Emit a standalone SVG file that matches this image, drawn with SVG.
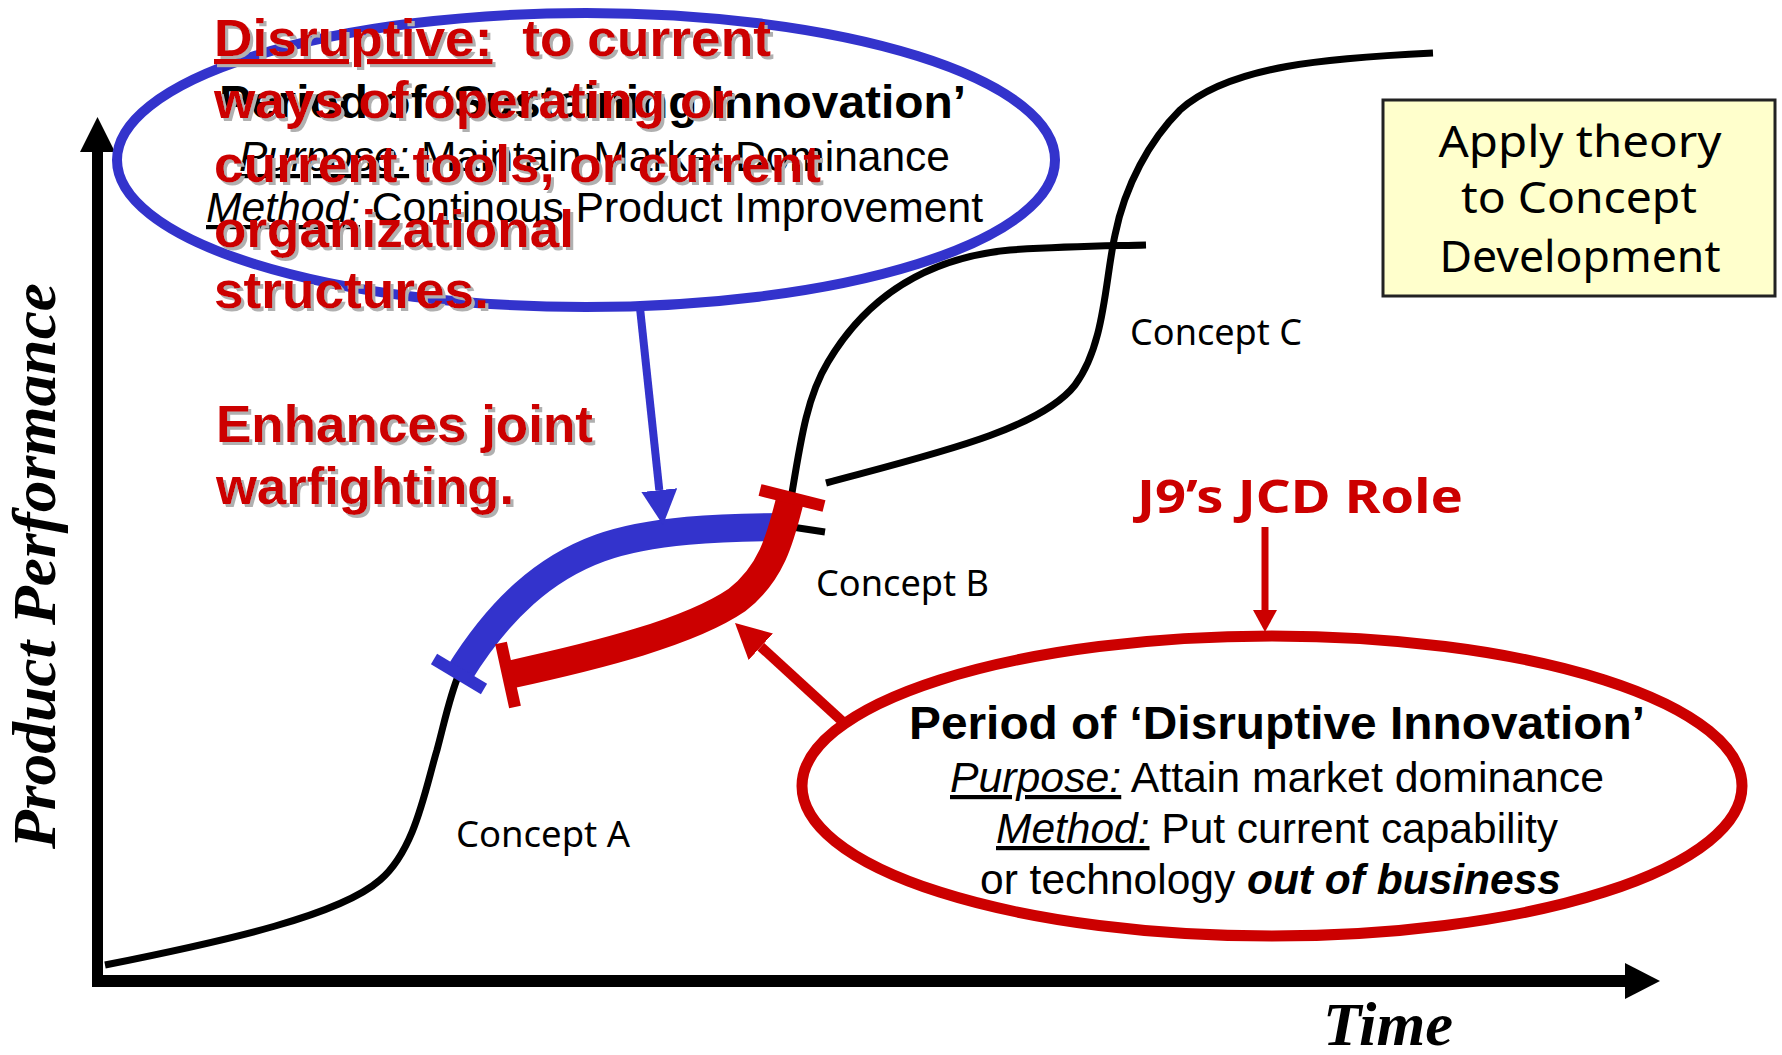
<svg xmlns="http://www.w3.org/2000/svg" width="1782" height="1055" viewBox="0 0 1782 1055">
  <defs>
    <style>
      .sans { font-family: "Liberation Sans", Arial, sans-serif; }
      .hand { font-family: "Noto Sans", "Liberation Sans", sans-serif; }
      .serif { font-family: "Liberation Serif", "Times New Roman", serif; font-weight: bold; font-style: italic; fill: #000; }
      .body { font-size: 42px; fill: #000; }
      .head { font-size: 47px; font-weight: bold; fill: #000; }
      .label { font-size: 52px; font-weight: bold; fill: #CC0000; }
      .ul { font-style: italic; text-decoration: underline; }
      .curve { fill: none; stroke: #000; stroke-width: 7; }
      .axis { fill: #000; }
      .band { fill: none; stroke-width: 28; stroke-linecap: butt; }
      .tbar { stroke-width: 12; stroke-linecap: butt; }
      .blue { stroke: #3333CC; }
      .red { stroke: #CC0000; }
    </style>
    <filter id="dropShadow" x="-5%" y="-20%" width="110%" height="140%">
      <feFlood flood-color="#b0b0b0"/>
      <feComposite in2="SourceAlpha" operator="in"/>
      <feOffset dx="3" dy="3"/>
      <feMerge>
        <feMergeNode/>
        <feMergeNode in="SourceGraphic"/>
      </feMerge>
    </filter>
    <marker id="arrowBlue" markerUnits="userSpaceOnUse" viewBox="0 0 35 36" markerWidth="35" markerHeight="36" refX="0" refY="18" orient="auto">
      <path d="M0,0 L35,18 L0,36 Z" fill="#3333CC"/>
    </marker>
    <marker id="arrowRed" markerUnits="userSpaceOnUse" viewBox="0 0 35 36" markerWidth="35" markerHeight="36" refX="0" refY="18" orient="auto">
      <path d="M0,0 L35,18 L0,36 Z" fill="#CC0000"/>
    </marker>
    <marker id="arrowRedSmall" markerUnits="userSpaceOnUse" viewBox="0 0 22 24" markerWidth="22" markerHeight="24" refX="0" refY="12" orient="auto">
      <path d="M0,0 L22,12 L0,24 Z" fill="#CC0000"/>
    </marker>
  </defs>

  <rect width="1782" height="1055" fill="#fff"/>

  <!-- chart axes -->
  <g id="axes">
    <rect class="axis" x="92" y="150" width="11" height="837"/>
    <polygon class="axis" points="97.5,117 115,152 80,152"/>
    <rect class="axis" x="92" y="975" width="1535" height="12"/>
    <polygon class="axis" points="1660,981 1625,963 1625,999"/>
    <text class="serif" x="1323" y="1045" font-size="62" textLength="130" lengthAdjust="spacingAndGlyphs">Time</text>
    <text class="serif" transform="translate(55,566) rotate(-90)" text-anchor="middle" font-size="62" textLength="566" lengthAdjust="spacingAndGlyphs">Product Performance</text>
  </g>

  <!-- sustaining innovation bubble -->
  <g id="sustaining">
    <ellipse cx="586" cy="160" rx="469" ry="147" fill="#fff" stroke="#3333CC" stroke-width="10"/>
    <text class="sans head" x="219" y="118" textLength="747" lengthAdjust="spacingAndGlyphs">Period of ‘Sustaining Innovation’</text>
    <text class="sans body" x="239" y="171" textLength="711" lengthAdjust="spacingAndGlyphs"><tspan class="ul">Purpose:</tspan> Maintain Market Dominance</text>
    <text class="sans body" x="206" y="222" textLength="777" lengthAdjust="spacingAndGlyphs"><tspan class="ul">Method:</tspan> Continous Product Improvement</text>
  </g>

  <!-- disruptive innovation bubble -->
  <g id="disruptive">
    <ellipse cx="1272" cy="786" rx="470" ry="150" fill="#fff" stroke="#CC0000" stroke-width="11"/>
    <text class="sans head" x="909" y="739" textLength="736" lengthAdjust="spacingAndGlyphs">Period of ‘Disruptive Innovation’</text>
    <text class="sans body" x="950" y="792" textLength="654" lengthAdjust="spacingAndGlyphs"><tspan class="ul">Purpose:</tspan> Attain market dominance</text>
    <text class="sans body" x="996" y="843" textLength="562" lengthAdjust="spacingAndGlyphs"><tspan class="ul">Method:</tspan> Put current capability</text>
    <text class="sans body" x="980" y="894" textLength="581" lengthAdjust="spacingAndGlyphs">or technology <tspan font-weight="bold" font-style="italic">out of business</tspan></text>
  </g>

  <!-- S-curves -->
  <g id="concept-a">
    <path class="curve" d="M105,965 C230,940 340,915 380,880 C415,850 425,790 437,750 C445,720 450,695 459,674 C500,608 545,568 600,548 C650,530 720,527 792,527 L825,532"/>
    <text class="hand" x="456" y="847" font-size="36" textLength="174" lengthAdjust="spacingAndGlyphs">Concept A</text>
  </g>
  <g id="concept-b">
    <path class="curve" d="M790,505 C800,445 806,398 828,362 C866,298 926,258 1010,250 C1070,246 1110,246 1146,245"/>
    <text class="hand" x="816" y="596" font-size="36" textLength="173" lengthAdjust="spacingAndGlyphs">Concept B</text>
  </g>
  <g id="concept-c">
    <path class="curve" d="M826,483 C930,455 1040,430 1075,385 C1105,345 1105,280 1115,235 C1125,185 1150,140 1180,110 C1230,65 1330,58 1433,53"/>
    <text class="hand" x="1130" y="345" font-size="36" textLength="172" lengthAdjust="spacingAndGlyphs">Concept C</text>
  </g>

  <!-- highlighted spans of the curves -->
  <g id="sustaining-span">
    <path class="band blue" d="M459,674 C500,608 545,568 600,548 C650,530 720,527 792,527"/>
    <line class="tbar blue" x1="434" y1="659" x2="484" y2="689"/>
  </g>
  <g id="disruptive-span">
    <path class="band red" d="M508,675 C600,655 690,632 737,600 C773,572 781,535 790,500"/>
    <line class="tbar red" x1="501" y1="643" x2="515" y2="707"/>
    <line class="tbar red" x1="760" y1="490" x2="824" y2="506"/>
  </g>

  <!-- connectors -->
  <g id="connectors">
    <line x1="640" y1="308" x2="659.3" y2="490.2" stroke="#3333CC" stroke-width="8" marker-end="url(#arrowBlue)"/>
    <line x1="843" y1="722" x2="760.8" y2="646.7" stroke="#CC0000" stroke-width="10" marker-end="url(#arrowRed)"/>
    <line x1="1265" y1="527" x2="1265" y2="610" stroke="#CC0000" stroke-width="7" marker-end="url(#arrowRedSmall)"/>
  </g>

  <!-- role label -->
  <g id="jcd-role">
    <text class="hand" x="1137" y="513" font-size="46" font-weight="bold" fill="#CC0000" textLength="326" lengthAdjust="spacingAndGlyphs">J9’s JCD Role</text>
  </g>

  <!-- note box -->
  <g id="apply-theory">
    <rect x="1383" y="100" width="392" height="196" fill="#FFFFCC" stroke="#222" stroke-width="3"/>
    <text class="hand" x="1580" y="157" font-size="44" text-anchor="middle" textLength="283" lengthAdjust="spacingAndGlyphs">Apply theory</text>
    <text class="hand" x="1579" y="213" font-size="44" text-anchor="middle" textLength="236" lengthAdjust="spacingAndGlyphs">to Concept</text>
    <text class="hand" x="1580" y="272" font-size="44" text-anchor="middle" textLength="281" lengthAdjust="spacingAndGlyphs">Development</text>
  </g>

  <!-- red callout text -->
  <g id="disruptive-note" class="sans label" filter="url(#dropShadow)">
    <text x="214" y="56" xml:space="preserve" textLength="557" lengthAdjust="spacingAndGlyphs"><tspan text-decoration="underline">Disruptive:</tspan>  to current</text>
    <text x="214" y="118" textLength="519" lengthAdjust="spacingAndGlyphs">ways of operating or</text>
    <text x="214" y="182" textLength="607" lengthAdjust="spacingAndGlyphs">current tools, or current</text>
    <text x="214" y="247" textLength="360" lengthAdjust="spacingAndGlyphs">organizational</text>
    <text x="214" y="308" textLength="275" lengthAdjust="spacingAndGlyphs">structures.</text>
    <text x="216" y="442" textLength="377" lengthAdjust="spacingAndGlyphs">Enhances joint</text>
    <text x="216" y="504" textLength="298" lengthAdjust="spacingAndGlyphs">warfighting.</text>
  </g>
</svg>
